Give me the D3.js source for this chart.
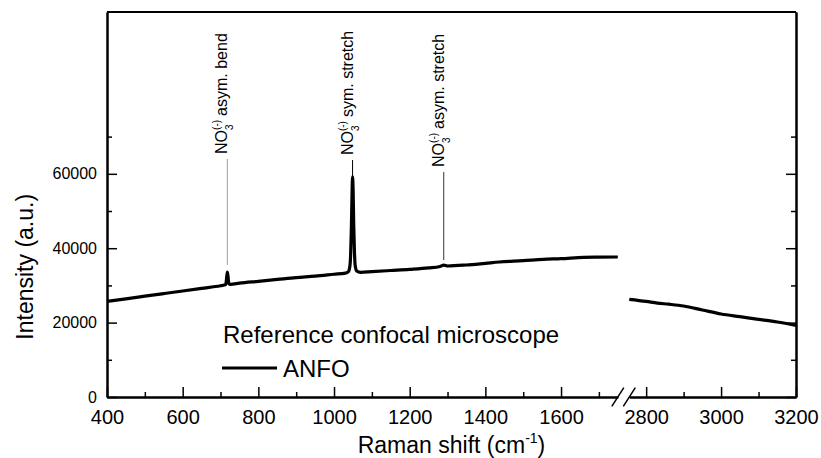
<!DOCTYPE html>
<html>
<head>
<meta charset="utf-8">
<script src="https://cdn.jsdelivr.net/npm/d3@7"></script>
<style>
  body { margin: 0; background: #fff; }
  text { font-family: "Liberation Sans", Arial, sans-serif; fill: #000; }
</style>
</head>
<body>
<svg id="chart" width="821" height="458"></svg>
<script>
// spectrum, left part (before the axis break)
const leftShift = [400, 450, 500, 550, 600, 650, 700, 710, 714, 716, 718, 720, 722, 726, 750, 800, 850, 900, 950, 1000,
  1030, 1038, 1042, 1044, 1046, 1047.5, 1049, 1050.5, 1052, 1054, 1056, 1060, 1070, 1100, 1150, 1200, 1250, 1280, 1290,
  1300, 1350, 1400, 1437, 1500, 1553, 1600, 1660, 1700, 1750];
const leftIntensity = [25700, 26400, 27100, 27800, 28500, 29200, 29900, 30100, 30300, 31900, 33600, 32300, 30500, 30300, 30600, 31100, 31600, 32100, 32500, 33000,
  33300, 33700, 35200, 38500, 46000, 54000, 59200, 55500, 46500, 39000, 35300, 33900, 33500, 33700, 34000, 34300, 34700, 35100, 35450,
  35220, 35490, 35940, 36290, 36650, 37010, 37190, 37550, 37600, 37640];

// spectrum, right part (after the break)
const rightShift = [2755, 2800, 2830, 2860, 2900, 2950, 3000, 3050, 3100, 3150, 3200];
const rightIntensity = [26260, 25700, 25250, 24950, 24460, 23390, 22310, 21590, 20880, 20160, 19270];

// peak annotations
const annLabel = ["asym. bend", "sym. stretch", "asym. stretch"];
const annShift = [718, 1049, 1290];
const annTop = [64000, 63700, 60500];
const annBottom = [35500, 59400, 36800];
const annColor = ["#a0a0a0", "#000", "#333"];

// ticks
const xMajorLeft = [400, 600, 800, 1000, 1200, 1400, 1600];
const xMinorLeft = [500, 700, 900, 1100, 1300, 1500, 1700];
const xMajorRight = [2800, 3000, 3200];
const xMinorRight = [2900, 3100];
const yMajor = [0, 20000, 40000, 60000];
const yMinor = [10000, 30000, 50000, 70000];

const svg = d3.select("#chart");
const mLeft = 107, mRight = 796, mTop = 12, mBottom = 397;
const breakL = 617.8, breakR = 629.3;

const xL = d3.scaleLinear().domain([400, 1750]).range([mLeft, breakL]);
const xR = d3.scaleLinear().domain([2755, 3200]).range([breakR, mRight]);
const y = d3.scaleLinear().domain([0, 103500]).range([mBottom, mTop]);

function styleAxis(g, fontSize) {
  g.selectAll("path.domain").attr("stroke", "#000").attr("stroke-width", 2);
  g.selectAll(".tick line").attr("stroke", "#000").attr("stroke-width", 1.5);
  g.selectAll("text").style("font-size", fontSize + "px").attr("fill", "#000")
    .style("font-family", '"Liberation Sans", Arial, sans-serif');
}

// x axes (two segments)
[[xL, xMajorLeft, xMinorLeft], [xR, xMajorRight, xMinorRight]].forEach(([sc, maj, min]) => {
  svg.append("g").attr("transform", `translate(0,${mBottom})`)
    .call(d3.axisBottom(sc).tickValues(min).tickSize(-5).tickSizeOuter(0).tickFormat(""))
    .call(g => styleAxis(g, 20));
  svg.append("g").attr("transform", `translate(0,${mBottom})`)
    .call(d3.axisBottom(sc).tickValues(maj).tickSize(-10).tickSizeOuter(0).tickPadding(13).tickFormat(d3.format("d")))
    .call(g => styleAxis(g, 20));
});

// break marks
[breakL, breakR].forEach(bx => {
  svg.append("line")
    .attr("x1", bx - 6).attr("y1", mBottom + 9.3)
    .attr("x2", bx + 6).attr("y2", mBottom - 9.3)
    .attr("stroke", "#000").attr("stroke-width", 1.5);
});

// y axes
svg.append("g").attr("transform", `translate(${mLeft},0)`)
  .call(d3.axisLeft(y).tickValues(yMinor).tickSize(-5).tickSizeOuter(0).tickFormat(""))
  .call(g => styleAxis(g, 16));
svg.append("g").attr("transform", `translate(${mLeft},0)`)
  .call(d3.axisLeft(y).tickValues(yMajor).tickSize(-10).tickSizeOuter(0).tickPadding(10).tickFormat(d3.format("d")))
  .call(g => styleAxis(g, 16));
svg.append("g").attr("transform", `translate(${mRight},0)`)
  .call(d3.axisRight(y).tickValues(yMinor).tickSize(-5).tickSizeOuter(0).tickFormat(""))
  .call(g => styleAxis(g, 16));
svg.append("g").attr("transform", `translate(${mRight},0)`)
  .call(d3.axisRight(y).tickValues(yMajor).tickSize(-10).tickSizeOuter(0).tickFormat(""))
  .call(g => styleAxis(g, 16));

// top frame
svg.append("line").attr("x1", mLeft).attr("x2", mRight).attr("y1", mTop).attr("y2", mTop)
  .attr("stroke", "#000").attr("stroke-width", 2);

// spectrum lines
const lineL = d3.line().x((d, i) => xL(leftShift[i])).y(d => y(d)).curve(d3.curveMonotoneX);
const lineR = d3.line().x((d, i) => xR(rightShift[i])).y(d => y(d)).curve(d3.curveMonotoneX);
svg.append("path").attr("d", lineL(leftIntensity))
  .attr("fill", "none").attr("stroke", "#000").attr("stroke-width", 3.2).attr("stroke-linejoin", "round");
svg.append("path").attr("d", lineR(rightIntensity))
  .attr("fill", "none").attr("stroke", "#000").attr("stroke-width", 3.2).attr("stroke-linejoin", "round");

// annotations
annLabel.forEach((lab, i) => {
  const ax = xL(annShift[i]);
  svg.append("line")
    .attr("x1", ax).attr("x2", ax)
    .attr("y1", y(annTop[i])).attr("y2", y(annBottom[i]))
    .attr("stroke", annColor[i]).attr("stroke-width", 1);
  const t = svg.append("text")
    .attr("transform", `translate(${ax},${y(annTop[i]) - 5}) rotate(-90)`)
    .style("font-size", "16px");
  t.append("tspan").text("NO");
  t.append("tspan").attr("dy", -7).style("font-size", "10px").text("(-)");
  t.append("tspan").attr("dx", -10).attr("dy", 13).style("font-size", "10px").text("3");
  t.append("tspan").attr("dx", 4).attr("dy", -6).text(" " + lab);
});

// axis titles
svg.append("text")
  .attr("transform", `translate(33,${(y(0) + y(70000)) / 2}) rotate(-90)`)
  .attr("text-anchor", "middle")
  .style("font-size", "23px")
  .text("Intensity (a.u.)");

const xt = svg.append("text")
  .attr("x", (mLeft + mRight) / 2).attr("y", 453)
  .attr("text-anchor", "middle")
  .style("font-size", "23px");
xt.append("tspan").text("Raman shift (cm");
xt.append("tspan").attr("dy", -10).style("font-size", "14px").text("-1");
xt.append("tspan").attr("dy", 10).text(")");

// legend
svg.append("text").attr("x", 223).attr("y", 343).style("font-size", "24px")
  .text("Reference confocal microscope");
svg.append("line").attr("x1", 222).attr("x2", 277).attr("y1", 368).attr("y2", 368)
  .attr("stroke", "#000").attr("stroke-width", 3.2);
svg.append("text").attr("x", 283).attr("y", 377).style("font-size", "24px").text("ANFO");
</script>
</body>
</html>
